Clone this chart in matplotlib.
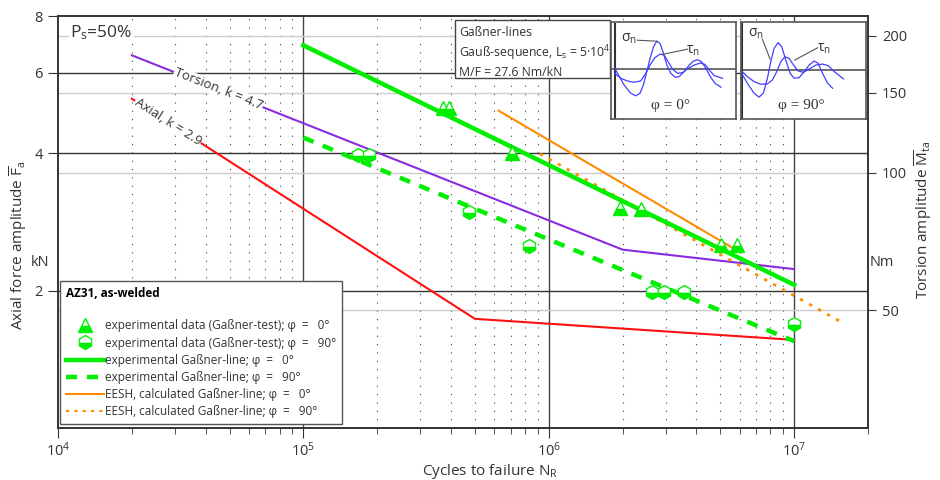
import matplotlib
matplotlib.use("Agg")
import matplotlib.pyplot as plt
from matplotlib.lines import Line2D
from matplotlib.patches import Rectangle
from matplotlib.ticker import NullLocator, FixedLocator

plt.rcParams['font.family'] = ['Open Sans', 'DejaVu Sans']
plt.rcParams['mathtext.fontset'] = 'custom'
plt.rcParams['mathtext.rm'] = 'Open Sans'
plt.rcParams['mathtext.it'] = 'Open Sans:italic'
plt.rcParams['mathtext.bf'] = 'Open Sans:bold'

MF = 27.6  # Nm/kN, right axis = left axis * MF

# reference lines (pure torsion / pure axial)
tor_N = [2e4, 2e6, 1e7]
tor_F = [6.56, 2.46, 2.23]
axi_N = [2e4, 5e5, 1e7]
axi_F = [5.27, 1.735, 1.56]

# experimental Gassner lines
g0_N = [1e5, 1e7]
g0_F = [6.9, 2.06]
g90_N = [1e5, 1e7]
g90_F = [4.33, 1.55]

# EESH calculated Gassner lines
e0_N = [6.25e5, 5.56e6]
e0_F = [4.96, 2.49]
e90_N = [9.2e5, 1.61e7]
e90_F = [3.99, 1.69]

# test data
d0_N = [3.70e5, 3.91e5, 7.11e5, 1.96e6, 2.37e6, 5.05e6, 5.85e6]
d0_F = [5.04, 5.04, 4.01, 3.03, 3.02, 2.52, 2.52]
d90_N = [1.67e5, 1.85e5, 4.74e5, 8.31e5, 2.64e6, 2.94e6, 3.55e6, 9.97e6]
d90_F = [3.97, 3.97, 2.98, 2.50, 1.99, 1.99, 1.99, 1.69]

yticks_l = [2, 4, 6, 8]
yticks_r = [50, 100, 150, 200]

# sketch curves in the two small boxes (box pixel coords, y down)
s0_x = [22, 50, 70, 85, 98, 108, 118, 128, 138, 148, 158, 168, 178, 190, 203, 215, 230, 245, 258, 270, 282, 295, 308, 322, 340]
s0_y = [150, 200, 225, 233, 225, 200, 160, 120, 85, 68, 75, 105, 140, 165, 177, 175, 160, 140, 128, 124, 130, 150, 175, 195, 207]
t0_x = [22, 40, 60, 80, 100, 115, 128, 142, 158, 170, 182, 195, 210, 225, 242, 260, 278, 292, 305, 320, 345]
t0_y = [165, 180, 188, 192, 188, 165, 140, 118, 107, 110, 130, 152, 165, 163, 150, 140, 134, 138, 155, 172, 180]
s90_x = [10, 30, 50, 65, 78, 90, 100, 110, 122, 133, 145, 158, 170, 185, 200, 215, 230, 242, 255, 270, 285]
s90_y = [160, 195, 225, 237, 225, 180, 130, 90, 72, 85, 125, 165, 180, 178, 160, 140, 128, 135, 165, 195, 210]
t90_x = [10, 30, 50, 70, 90, 105, 118, 130, 142, 155, 168, 182, 198, 215, 235, 255, 272, 290, 318]
t90_y = [155, 175, 190, 198, 197, 185, 160, 130, 115, 120, 140, 158, 162, 152, 140, 137, 142, 160, 182]

lime = '#00ee00'
purple = '#8a2be2'
red = '#ff1010'
orange = '#ff8c00'
tc = '#333333'

fig = plt.figure(figsize=(9.4, 4.8), dpi=100)
L, R, T, B = 58, 868, 16, 428
ax = fig.add_axes([L / 940, 1 - B / 480, (R - L) / 940, (B - T) / 480])


def px(x, y):
    return (x - L) / (R - L), (B - y) / (B - T)


ax.set_xscale('log')
ax.set_yscale('log')
ax.set_xlim(1e4, 2e7)
ax.set_ylim(1, 8)

# grid
for d in [1e4, 1e5, 1e6]:
    for m in range(2, 10):
        ax.axvline(d * m, color='#444444', lw=0.8, ls=(0, (1, 6.5)), zorder=0)
for v in [1e5, 1e6, 1e7]:
    ax.axvline(v, color='#444444', lw=1, zorder=0)
for v in [2, 4, 6]:
    ax.axhline(v, color='#333333', lw=1, zorder=0)
for v in yticks_r:
    ax.axhline(v / MF, color='#cccccc', lw=1, zorder=0)

ax.plot(tor_N, tor_F, color=purple, lw=1.5, zorder=2)
ax.plot(axi_N, axi_F, color=red, lw=1.5, zorder=2)
ax.plot(e0_N, e0_F, color=orange, lw=1.5, zorder=2)
ax.plot(e90_N, e90_F, color=orange, lw=2, ls=(0, (1.2, 2.5)), zorder=2)
ax.plot(g0_N, g0_F, color=lime, lw=3.2, zorder=3)
ax.plot(g90_N, g90_F, color=lime, lw=3.2, ls=(0, (2.5, 2.2)), zorder=3)
ax.plot(d0_N, d0_F, ls='none', marker='^', ms=10, mec=lime, mfc=lime,
        fillstyle='bottom', markerfacecoloralt='white', mew=1, zorder=4)
ax.plot(d90_N, d90_F, ls='none', marker='h', ms=10, mec=lime, mfc=lime,
        fillstyle='bottom', markerfacecoloralt='white', mew=1, zorder=4)

ax.text(4.5e4, 5.52, 'Torsion, k = 4.7', rotation=-21.5, ha='center', va='center',
        fontsize=9.5, color=tc, zorder=5, rotation_mode='anchor',
        bbox=dict(fc='white', ec='none', pad=0.5))
ax.text(2.81e4, 4.69, 'Axial, k = 2.9', rotation=-32.6, ha='center', va='center',
        fontsize=9.5, color=tc, zorder=5, rotation_mode='anchor',
        bbox=dict(fc='white', ec='none', pad=0.5))

ax.text(*px(70, 33), r'P$_\mathrm{s}$=50%', fontsize=12.5, color=tc, va='center',
        transform=ax.transAxes, zorder=5, bbox=dict(fc='white', ec='none', pad=1))

# info box
x0, y0 = px(455, 78)
x1, y1 = px(610, 20)
ax.add_patch(Rectangle((x0, y0), x1 - x0, y1 - y0, transform=ax.transAxes,
                       fc='white', ec='#444444', lw=1, zorder=6))
for yy, s in [(33, 'Gaßner-lines'),
              (53, r'Gauß-sequence, L$_\mathrm{s}$ = 5·10$^4$'),
              (72, 'M/F = 27.6 Nm/kN')]:
    ax.text(*px(459, yy), s, fontsize=8.8, color=tc, va='center',
            transform=ax.transAxes, zorder=7)

# axes styling
ax.yaxis.set_major_locator(FixedLocator(yticks_l))
ax.yaxis.set_minor_locator(NullLocator())
ax.set_yticklabels([str(v) for v in yticks_l])
ax.tick_params(axis='y', which='major', direction='out', length=7, labelsize=10.5,
               colors=tc, pad=4)
ax.tick_params(axis='x', which='major', direction='out', length=7, labelsize=10.5,
               colors=tc, pad=3)
ax.tick_params(axis='x', which='minor', direction='out', length=4, colors=tc,
               labelbottom=False)
for s in ax.spines.values():
    s.set_color('#333333')
    s.set_linewidth(1.2)

ax2 = ax.twinx()
ax2.set_yscale('log')
ax2.set_ylim(1 * MF, 8 * MF)
ax2.yaxis.set_major_locator(FixedLocator(yticks_r))
ax2.yaxis.set_minor_locator(NullLocator())
ax2.set_yticklabels([str(v) for v in yticks_r])
ax2.tick_params(axis='y', direction='out', length=6, labelsize=10.5, colors=tc, pad=4)
for s in ax2.spines.values():
    s.set_color('#333333')
    s.set_linewidth(1.2)

ax.set_xlabel(r'Cycles to failure N$_\mathrm{R}$', fontsize=11, color=tc)
ax.xaxis.set_label_coords(*px(490, 462))
ax.set_ylabel(r'Axial force amplitude $\overline{\mathrm{F}}_\mathrm{a}$', fontsize=11, color=tc)
ax.yaxis.set_label_coords(*px(29, 245))
ax2.set_ylabel(r'Torsion amplitude $\overline{\mathrm{M}}_\mathrm{ta}$', fontsize=11, color=tc)
ax2.yaxis.set_label_coords(*px(912, 220))
ax.text(*px(40, 262), 'kN', fontsize=10.5, color=tc, ha='center', va='center',
        transform=ax.transAxes)
ax.text(*px(882, 262), 'Nm', fontsize=10.5, color=tc, ha='center', va='center',
        transform=ax.transAxes)

# legend
lbl = ['experimental data (Gaßner-test); φ  =   0°',
       'experimental data (Gaßner-test); φ  =   90°',
       'experimental Gaßner-line; φ  =   0°',
       'experimental Gaßner-line; φ  =   90°',
       'EESH, calculated Gaßner-line; φ  =   0°',
       'EESH, calculated Gaßner-line; φ  =   90°']
hnd = [Line2D([], [], ls='none', marker='^', ms=10, mec=lime, mfc=lime,
              fillstyle='bottom', markerfacecoloralt='white'),
       Line2D([], [], ls='none', marker='h', ms=10, mec=lime, mfc=lime,
              fillstyle='bottom', markerfacecoloralt='white'),
       Line2D([], [], color=lime, lw=3.2),
       Line2D([], [], color=lime, lw=3.2, ls=(0, (2.5, 2.2))),
       Line2D([], [], color=orange, lw=1.5),
       Line2D([], [], color=orange, lw=1.5, ls=(0, (1.5, 2.5)))]
leg = ax.legend(hnd, lbl, loc='lower left', bbox_to_anchor=px(60, 424),
                borderaxespad=0, fontsize=8.5, title='AZ31, as-welded\n',
                title_fontproperties={'weight': 'bold', 'size': 8.5},
                alignment='left', handlelength=3.2, handletextpad=0.1,
                labelspacing=0.35, fancybox=False, framealpha=1,
                edgecolor='#555555', borderpad=0.5)
leg.set_zorder(10)
for t in leg.get_texts():
    t.set_color(tc)

# sketch boxes
for bx, sx, sy, tx, ty, ax_y, lx, phi, sig, tau in [
        (611, s0_x, s0_y, t0_x, t0_y, 152, 22, 'φ = 0°',
         ((65, 60), (90, 65), (148, 68)), ((255, 95), (240, 92), (165, 108))),
        (741, s90_x, s90_y, t90_x, t90_y, 155, 13, 'φ = 90°',
         ((55, 45), (75, 62), (98, 122)), ((258, 90), (240, 88), (172, 125)))]:
    ia = fig.add_axes([bx / 940, 1 - 119 / 480, 125 / 940, 97 / 480])
    ia.set_xlim(11, 385)
    ia.set_ylim(303, 10)
    ia.set_xticks([])
    ia.set_yticks([])
    for s in ia.spines.values():
        s.set_color('#555555')
        s.set_linewidth(1.2)
    ia.axhline(ax_y, color='#555555', lw=1.2)
    ia.plot([lx, lx], [15, 300], color='#333333', lw=1.5)
    ia.plot(sx, sy, color='#4040ff', lw=0.9)
    ia.plot(tx, ty, color='#4040ff', lw=0.9)
    ia.text(*sig[0], r'σ$_\mathrm{n}$', fontsize=10, color=tc, ha='center', va='center')
    ia.plot([sig[1][0], sig[2][0]], [sig[1][1], sig[2][1]], color='#555555', lw=0.8)
    ia.text(*tau[0], r'τ$_\mathrm{n}$', fontsize=10, color=tc, ha='center', va='center')
    ia.plot([tau[1][0], tau[2][0]], [tau[1][1], tau[2][1]], color='#555555', lw=0.8)
    ia.text(190, 262, phi, fontsize=11, color=tc, ha='center', va='center',
            family=['Liberation Serif', 'DejaVu Serif'])

fig.savefig('out.png', dpi=100)
